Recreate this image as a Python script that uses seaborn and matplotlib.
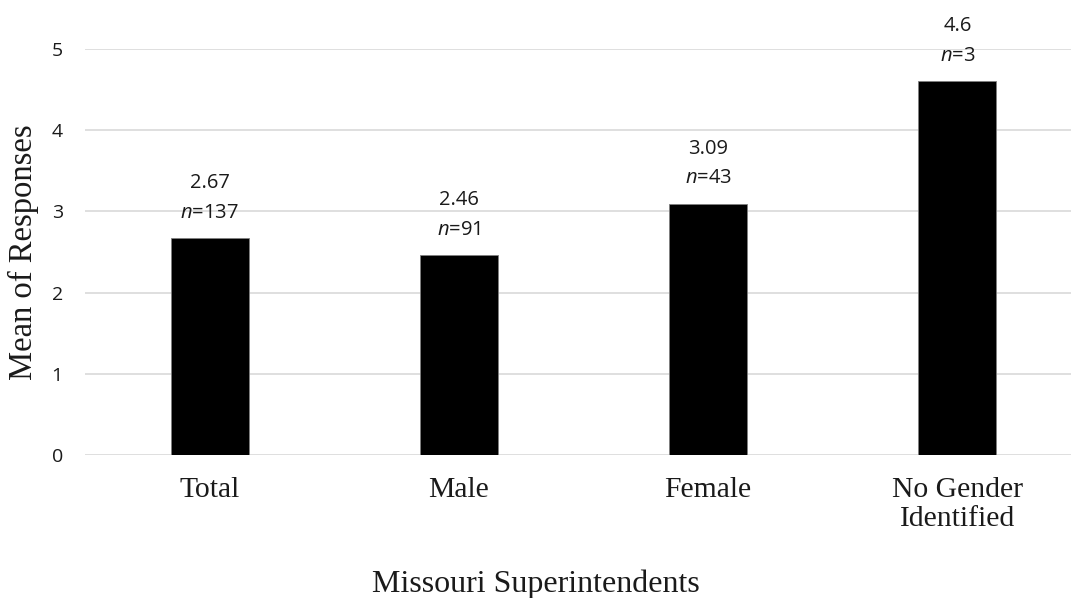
import matplotlib
matplotlib.use("Agg")
import matplotlib.pyplot as plt
import seaborn as sns
import pandas as pd

# Survey results by gender group
groups = ["Total", "Male", "Female", "No Gender\nIdentified"]
means = [2.67, 2.46, 3.09, 4.6]
counts = [137, 91, 43, 3]
yticks = [0, 1, 2, 3, 4, 5]

sns.set_theme(style="white")
plt.rcParams["font.family"] = ["Open Sans", "DejaVu Sans"]
plt.rcParams["mathtext.fontset"] = "custom"
plt.rcParams["mathtext.it"] = "Open Sans:italic"
plt.rcParams["mathtext.rm"] = "Open Sans"

df = pd.DataFrame({"group": groups, "mean": means})

fig = plt.figure(figsize=(10.71, 5.98), dpi=100)
ax = fig.add_axes([85 / 1071, 143 / 598, 997 / 1071, 406 / 598])

sns.barplot(data=df, x="group", y="mean", color="black", width=0.313,
            saturation=1, edgecolor="#7f7f7f", linewidth=0.6, ax=ax, zorder=3)

ax.set_ylim(0, 5)
ax.set_xlim(-0.5, len(groups) - 0.5)
ax.set_yticks(yticks)
ax.set_yticklabels([str(t) for t in yticks], fontsize=14, color="#1a1a1a")
ax.grid(axis="y", color="#d9d9d9", linewidth=1.2, zorder=0)
ax.grid(axis="x", visible=False)
for s in ax.spines.values():
    s.set_visible(False)
ax.tick_params(axis="y", length=0, pad=16)
ax.tick_params(axis="x", length=0, pad=16)

for lbl in ax.get_xticklabels():
    lbl.set_fontfamily("Liberation Serif")
    lbl.set_fontsize(21.3)
    lbl.set_color("#1a1a1a")
    lbl.set_linespacing(1.12)

ax.set_xlabel("Missouri Superintendents", fontfamily="Liberation Serif",
              fontsize=23, color="#1a1a1a", labelpad=27)
# centre the axis title on the visible chart area
ax.xaxis.label.set_x((1071 / 2 - 85) / 997)
ax.set_ylabel("Mean of Responses", fontfamily="Liberation Serif",
              fontsize=23.5, color="#1a1a1a", labelpad=9)

for i, (m, n) in enumerate(zip(means, counts)):
    ax.annotate(f"{m:g}", (i, m), xytext=(0, 40), textcoords="offset points",
                ha="center", va="center", fontsize=14.5, color="#1a1a1a")
    ax.annotate(rf"$\mathit{{n}}$=" + f"{n}", (i, m), xytext=(0, 18.5),
                textcoords="offset points", ha="center", va="center",
                fontsize=14.5, color="#1a1a1a")

fig.savefig("out.png", dpi=100)
